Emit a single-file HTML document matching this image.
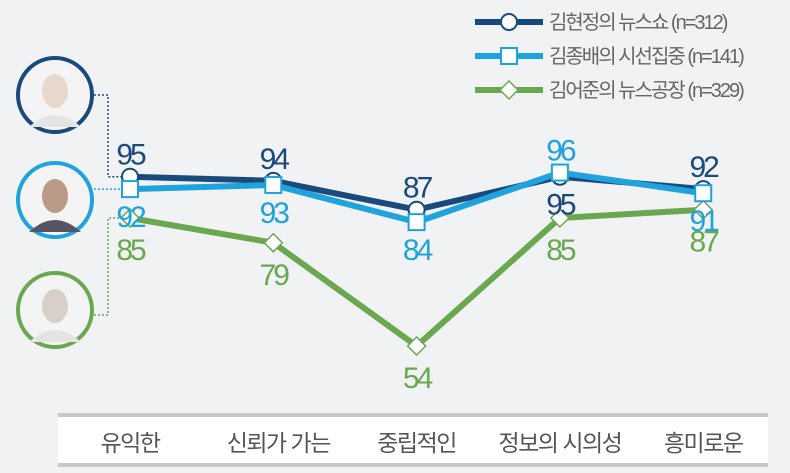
<!DOCTYPE html>
<html><head><meta charset="utf-8">
<style>
body{margin:0;background:#f1f2f4;}
svg{display:block;}
text{font-family:"Liberation Sans Narrow","Liberation Sans","Noto Sans CJK KR",sans-serif;}
.k{font-family:"Liberation Sans","Noto Sans CJK KR",sans-serif;}
</style></head>
<body>
<svg id="c" width="790" height="473">
<rect width="790" height="473" fill="#f1f2f4"/>
<rect x="58" y="415" width="710" height="50" fill="#fff"/>
<rect x="58" y="413" width="710" height="4" fill="#c8c9cc"/>
<rect x="58" y="463" width="710" height="4" fill="#c8c9cc"/>
<g id="portraits"></g>
<g id="marks"></g>
<g id="legend"></g>
</svg>
<script>
const categories=["유익한","신뢰가 가는","중립적인","정보의 시의성","흥미로운"];
const seriesNames=["김현정의 뉴스쇼 (n=312)","김종배의 시선집중 (n=141)","김어준의 뉴스공장 (n=329)"];
const dark=[95,94,87,95,92];
const light=[92,93,84,96,91];
const green=[85,79,54,85,87];
const colors=["#1a4a7c","#1fa3dc","#6aa84f"];
const labelPos=[[-1,-1,-1,1,-1],[1,1,1,-1,1],[1,1,1,1,1]];
const NS="http://www.w3.org/2000/svg";
const svg=document.getElementById('c');
function x(i){return 130+i*143.3;}
function y(v){return 218-(v-85)*4.13;}
function el(t,a,p){const e=document.createElementNS(NS,t);for(const k in a)e.setAttribute(k,a[k]);(p||svg).appendChild(e);return e;}
const pg=document.getElementById('portraits');
const pc=[[55,95],[55,200],[55,310]];
const skin=["#e9d8cc","#b89a86","#d8cfc8"];
const names=['portrait-kim-hyunjung','portrait-kim-jongbae','portrait-kim-eojun'];
pc.forEach((p,i)=>{
  const c=el('circle',{cx:p[0],cy:p[1],r:37,fill:'#f4f4f4',stroke:colors[i],'stroke-width':4},pg);
  
  
  el('ellipse',{cx:p[0],cy:p[1]-4,rx:13,ry:17,fill:skin[i]},pg);
  el('path',{d:`M${p[0]-26} ${p[1]+32} Q${p[0]} ${p[1]+8} ${p[0]+26} ${p[1]+32}Z`,fill:i==1?'#556':'#e4e4e4'},pg);
});
const dl=[[`M94 95 H108 V${y(dark[0])} H${x(0)}`,0],[`M94 ${y(light[0])} H${x(0)}`,1],[`M94 315 H108 V${y(green[0])} H${x(0)}`,2]];
dl.forEach(d=>el('path',{d:d[0],fill:'none',stroke:colors[d[1]],'stroke-width':1.5,'stroke-dasharray':'2 2'},pg));
const mg=document.getElementById('marks');
const all=[dark,light,green];
const snames=['series-kim-hyunjung','series-kim-jongbae','series-kim-eojun'];
function marker(s,cx,cy,g){
  let m;
  if(s==0)m=el('circle',{cx:cx,cy:cy,r:8,fill:'#fff',stroke:colors[0],'stroke-width':2},g);
  else if(s==1)m=el('rect',{x:cx-8,y:cy-8,width:16,height:16,fill:'#fff',stroke:colors[1],'stroke-width':2},g);
  else m=el('path',{d:`M${cx} ${cy-9}L${cx+9} ${cy}L${cx} ${cy+9}L${cx-9} ${cy}Z`,fill:'#fff',stroke:colors[2],'stroke-width':1.5},g);
  return m;
}
[2,0,1].forEach(s=>{
  const d=all[s].map((v,i)=>(i?'L':'M')+x(i)+' '+y(v)).join(' ');
  const ln=el('path',{d:d,fill:'none',stroke:colors[s],'stroke-width':6,'stroke-linejoin':'round'},mg);
  
  
});
[2,0,1].forEach(s=>{
  all[s].forEach((v,i)=>{
    const m=marker(s,x(i),y(v),mg);
    
    
  });
});
[0,1,2].forEach(s=>{
  all[s].forEach((v,i)=>{
    const dy=labelPos[s][i]<0?-12:(s==2?42:38);
    const t=el('text',{x:x(i),y:y(v)+dy,'text-anchor':'middle','font-size':30,fill:colors[s],'letter-spacing':-3},mg);
    t.textContent=v;
    
    
  });
});
const cx=[130,278,417,560,703];
categories.forEach((c,i)=>{
  const t=el('text',{x:x(i)+(i==1?5:0),y:451,'text-anchor':'middle','font-size':23,fill:'#555',class:'k','letter-spacing':-1.5});
  t.textContent=c;
  
  
});
const lg=document.getElementById('legend');
const ly=[22,56,90];
seriesNames.forEach((n,s)=>{
  el('line',{x1:475,x2:543,y1:ly[s],y2:ly[s],stroke:colors[s],'stroke-width':6},lg);
  marker(s,509,ly[s],lg);
  const t=el('text',{x:549,y:ly[s]+7,'font-size':20,fill:'#666',class:'k','letter-spacing':-2},lg);
  t.textContent=n;
  
  
});
</script>
</body></html>
